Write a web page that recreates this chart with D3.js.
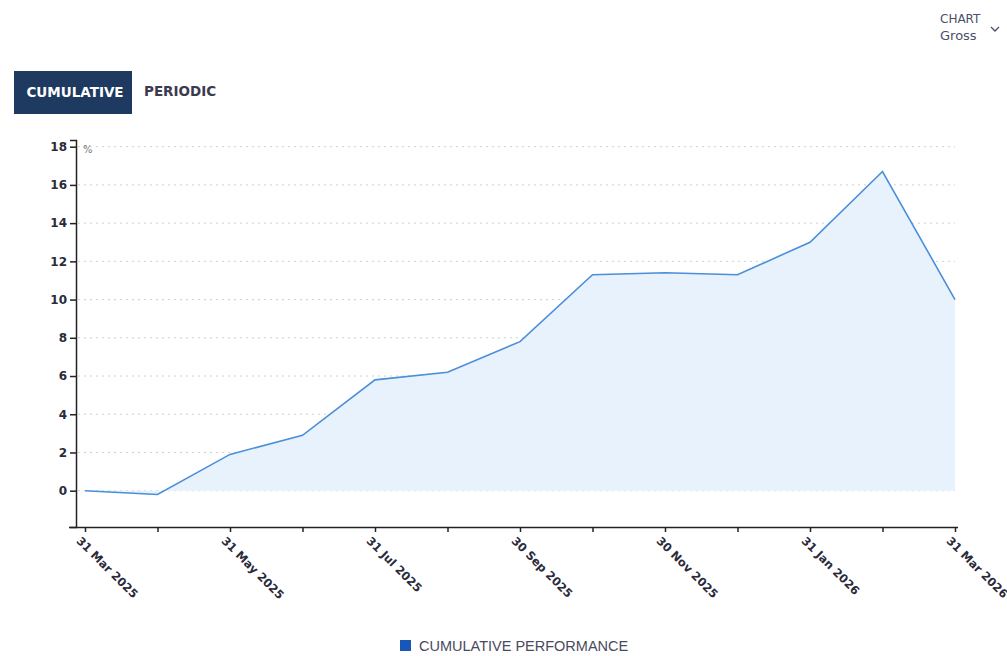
<!DOCTYPE html>
<html>
<head>
<meta charset="utf-8">
<script src="https://cdn.jsdelivr.net/npm/d3@7"></script>
<style>
  html, body { margin: 0; padding: 0; background: #fff; }
  svg { display: block; font-family: "DejaVu Sans", Verdana, sans-serif; }
</style>
</head>
<body>
<svg id="chart" width="1007" height="656"></svg>
<script>
// Month-end dates and cumulative performance (%)
const months = ["31 Mar 2025", "30 Apr 2025", "31 May 2025", "30 Jun 2025", "31 Jul 2025",
  "31 Aug 2025", "30 Sep 2025", "31 Oct 2025", "30 Nov 2025", "31 Dec 2025",
  "31 Jan 2026", "28 Feb 2026", "31 Mar 2026"];
const cumulative = [0, -0.2, 1.9, 2.9, 5.8, 6.2, 7.8, 11.3, 11.4, 11.3, 13.0, 16.7, 10.0];
const yTicks = [0, 2, 4, 6, 8, 10, 12, 14, 16, 18];
const labelledMonths = ["31 Mar 2025", "31 May 2025", "31 Jul 2025", "30 Sep 2025",
  "30 Nov 2025", "31 Jan 2026", "31 Mar 2026"];

const svg = d3.select("#chart");

// Header controls
svg.append("rect").attr("x", 14).attr("y", 71).attr("width", 118).attr("height", 43)
  .attr("fill", "#1e3a60");
svg.append("text").attr("x", 75).attr("y", 97).attr("text-anchor", "middle")
  .attr("fill", "#fff").attr("font-size", 13.5).attr("font-weight", "bold").text("CUMULATIVE");
svg.append("text").attr("x", 144).attr("y", 96)
  .attr("fill", "#3b3a4f").attr("font-size", 13.5).attr("font-weight", "bold").text("PERIODIC");

svg.append("text").attr("x", 940).attr("y", 23).attr("fill", "#4a4f6a")
  .attr("font-size", 12).text("CHART");
svg.append("text").attr("x", 940).attr("y", 40).attr("fill", "#4a4f6a")
  .attr("font-size", 13).text("Gross");
svg.append("path").attr("d", "M991,27 L995,31 L999,27")
  .attr("fill", "none").attr("stroke", "#4a4f6a").attr("stroke-width", 1.3);

// Scales
const x = d3.scalePoint().domain(months).range([85, 955]);
const y = d3.scaleLinear().domain([-1.9, 18.35]).range([527, 140]);

// Gridlines
svg.append("g").selectAll("line").data(yTicks).join("line")
  .attr("x1", 78).attr("x2", 955)
  .attr("y1", d => y(d)).attr("y2", d => y(d))
  .attr("stroke", "#cfcfd4").attr("stroke-width", 1).attr("stroke-dasharray", "2,4");

// Area and line
const area = d3.area().x((d, i) => x(months[i])).y0(y(0)).y1(d => y(d));
const line = d3.line().x((d, i) => x(months[i])).y(d => y(d));

svg.append("path").datum(cumulative).attr("d", area)
  .attr("fill", "#e8f2fc");
svg.append("path").datum(cumulative).attr("d", line)
  .attr("fill", "none").attr("stroke", "#4a8fd8").attr("stroke-width", 1.6);

// Y axis
const yAxis = svg.append("g").attr("transform", "translate(76,0)")
  .call(d3.axisLeft(y).tickValues(yTicks).tickSize(6).tickPadding(3));
yAxis.select(".domain").attr("stroke", "#222").attr("stroke-width", 1.5);
yAxis.selectAll(".tick line").attr("stroke", "#222").attr("stroke-width", 1.5);
yAxis.selectAll(".tick text").attr("fill", "#2a2a3a").attr("font-size", 12)
  .attr("font-weight", "bold").attr("font-family", "DejaVu Sans, Verdana, sans-serif");

svg.append("text").attr("x", 83).attr("y", 153).attr("fill", "#777")
  .attr("font-size", 10).text("%");

// X axis
const xAxis = svg.append("g").attr("transform", "translate(0,527)")
  .call(d3.axisBottom(x).tickSize(5).tickSizeOuter(0)
    .tickFormat(d => labelledMonths.includes(d) ? d : ""));
xAxis.select(".domain").attr("stroke", "#222").attr("stroke-width", 1.5)
  .attr("d", "M69,0.5H958");
xAxis.selectAll(".tick line").attr("stroke", "#222").attr("stroke-width", 1.5);
xAxis.selectAll(".tick text")
  .attr("fill", "#2a2a3a").attr("font-size", 11.5).attr("font-weight", "bold")
  .attr("font-family", "DejaVu Sans, Verdana, sans-serif")
  .attr("text-anchor", "start").attr("dy", 0)
  .attr("transform", "translate(-4,9) rotate(45)");

// Legend
svg.append("rect").attr("x", 400).attr("y", 640).attr("width", 11).attr("height", 11)
  .attr("fill", "#1a56b8");
svg.append("text").attr("x", 419).attr("y", 651).attr("fill", "#4a4a5e")
  .attr("font-family", "Liberation Sans, Arial, sans-serif")
  .attr("font-size", 14.5).text("CUMULATIVE PERFORMANCE");
</script>
</body>
</html>
